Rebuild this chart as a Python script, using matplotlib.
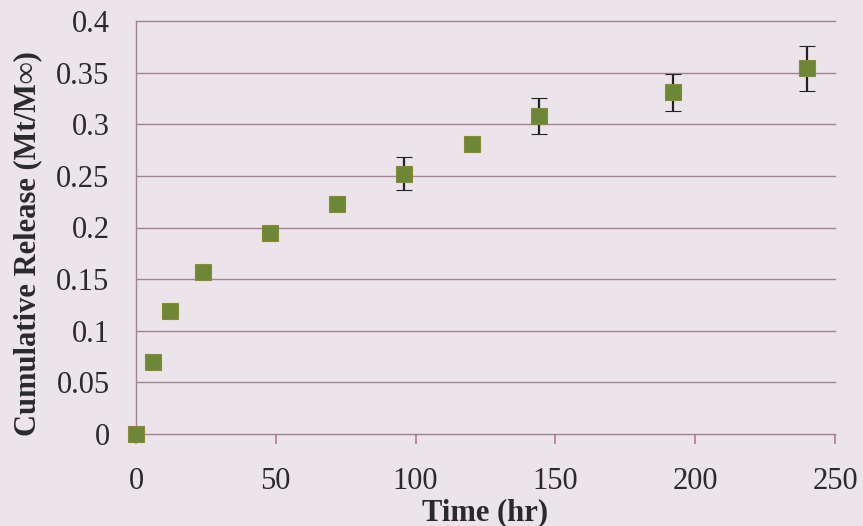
import numpy as np
import matplotlib
matplotlib.use("Agg")
import matplotlib.pyplot as plt

# release data
time_hr = [0, 6, 12, 24, 48, 72, 96, 120, 144, 192, 240]
release = [0.0, 0.070, 0.119, 0.157, 0.195, 0.223, 0.252, 0.281, 0.308, 0.331, 0.354]
err = [0.0, 0.0, 0.0, 0.007, 0.0, 0.0, 0.016, 0.0, 0.017, 0.018, 0.022]

yticks = [0, 0.05, 0.1, 0.15, 0.2, 0.25, 0.3, 0.35, 0.4]
ylabels = ["0", "0.05", "0.1", "0.15", "0.2", "0.25", "0.3", "0.35", "0.4"]
xticks = [0, 50, 100, 150, 200, 250]

bg = "#ece4eb"
plt.rcParams["font.family"] = ["Liberation Serif", "DejaVu Serif"]

fig = plt.figure(figsize=(8.63, 5.26), dpi=100, facecolor=bg)
ax = fig.add_axes([136/863, 1-434/526, (835-136)/863, (434-21)/526])
ax.set_facecolor(bg)

for y in yticks:
    ax.axhline(y, color="#a08590", lw=1.0, zorder=1, clip_on=False)

ax.errorbar(time_hr, release, yerr=err, fmt="s", ms=11.5, color="#6d8736",
            mec="#8a8a30", mew=0.8, ecolor="#222222", elinewidth=1.6,
            capsize=6, capthick=1.6, zorder=3, clip_on=False)

ax.set_xlim(0, 250)
ax.set_ylim(0, 0.4)
ax.set_xticks(xticks)
ax.set_xticklabels([str(x) for x in xticks])
ax.set_yticks(yticks)
ax.set_yticklabels(ylabels)

for s in ["top", "right", "bottom"]:
    ax.spines[s].set_visible(False)
ax.spines["left"].set_color("#a08590")
ax.spines["left"].set_linewidth(1.0)

ax.tick_params(axis="x", length=7, width=1.1, color="#b07080", direction="out",
               labelsize=22, pad=17, labelcolor="#2a2a2a")
ax.tick_params(axis="y", length=0, labelsize=22, pad=19, labelcolor="#2a2a2a")

ax.set_xlabel("Time (hr)", fontsize=22, fontweight="bold", color="#2a2a2a")
ax.set_ylabel("Cumulative Release (Mt/M\u221e)", fontsize=22, fontweight="bold",
              color="#2a2a2a")
ax.xaxis.set_label_coords(0.4993, -0.155)
ax.yaxis.set_label_coords(-0.134, 0.462)

fig.savefig("out.png", dpi=100, facecolor=bg)
